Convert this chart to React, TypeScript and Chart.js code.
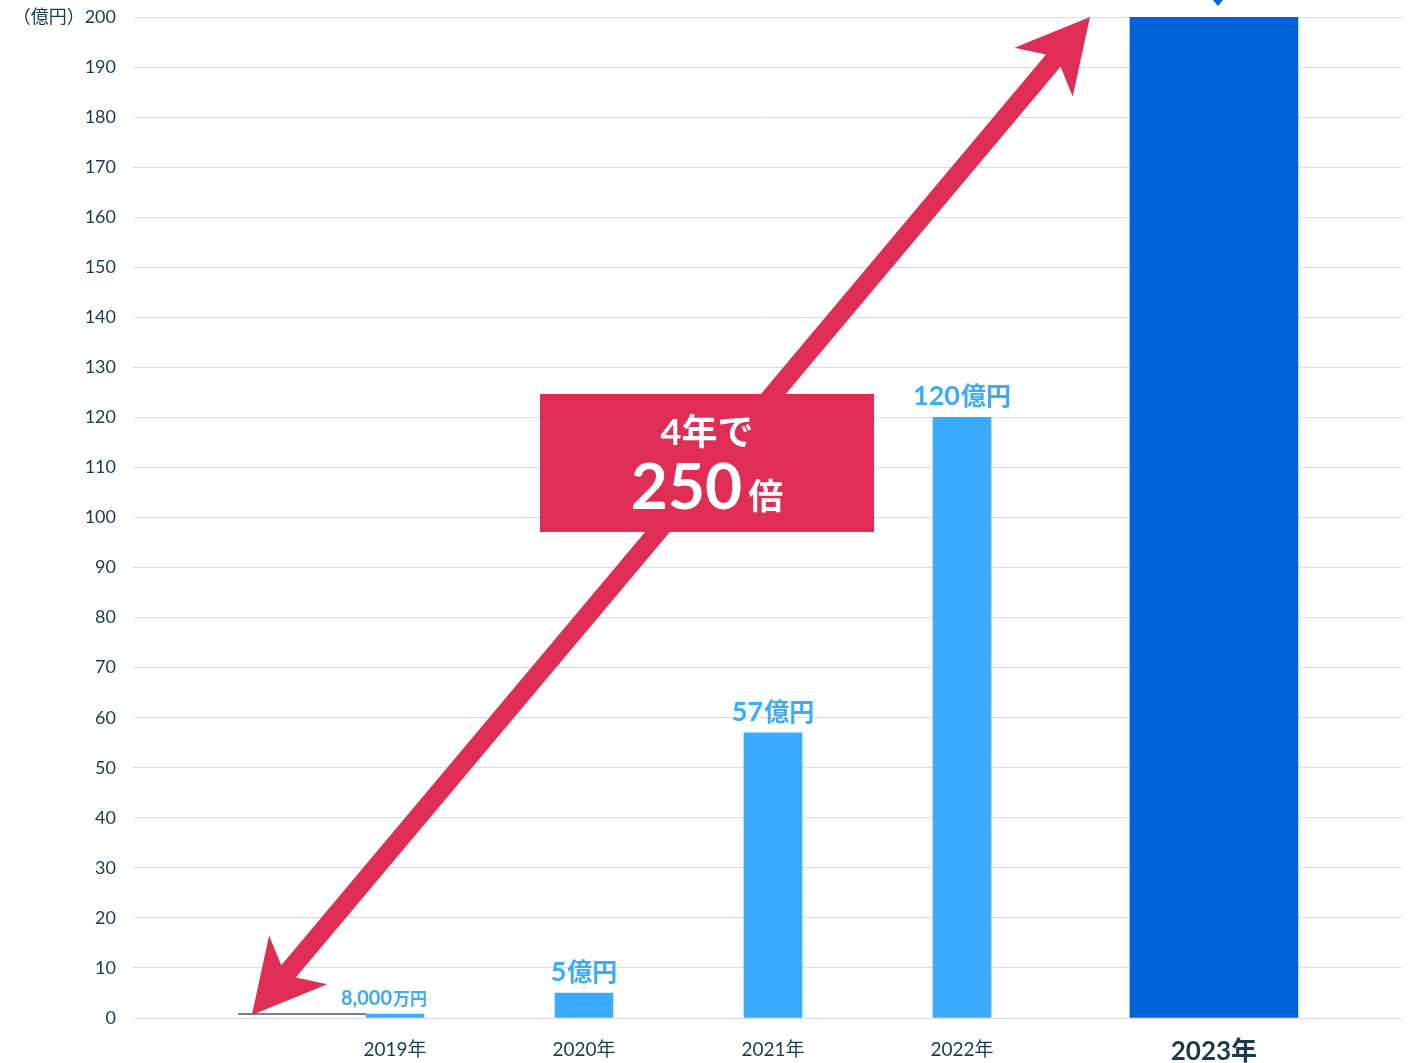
import React, { useEffect, useRef } from "react";
import { Chart, registerables } from "chart.js";

Chart.register(...registerables);

const categories = ["2019年", "2020年", "2021年", "2022年", "2023年"];
const positions = [0, 1, 2, 3, 4.333];
const values = [0.8, 5, 57, 120, 200];
const valueNumbers = ["8,000", "5", "57", "120", "200"];
const valueUnits = ["万円", "億円", "億円", "億円", "億円"];
const yMax = 200;
const yStep = 10;
const calloutLine1 = "4年で";
const calloutNumber = "250";
const calloutUnit = "倍";

const FONT = "Lato, 'Noto Sans CJK JP', sans-serif";
const LIGHT = "#3aabff";
const DARK = "#0064d8";
const RED = "#e02d55";
const TEXT = "#1a3a52";

const overlay = {
  id: "overlay",
  afterDatasetsDraw(chart: any) {
    const ctx = chart.ctx;
    const xs = chart.scales.x;
    const ys = chart.scales.y;
    ctx.save();

    // base leader line at 2019
    const bar0 = chart.getDatasetMeta(0).data[0];
    ctx.strokeStyle = "#555";
    ctx.lineWidth = 1.5;
    ctx.beginPath();
    ctx.moveTo(xs.getPixelForValue(-0.83), bar0.y);
    ctx.lineTo(bar0.x - bar0.width / 2, bar0.y);
    ctx.stroke();

    // double arrow
    const tx = xs.getPixelForValue(-0.757);
    const ty = ys.getPixelForValue(0.6);
    const hx = xs.getPixelForValue(3.677);
    const hy = ys.getPixelForValue(200);
    const dx = hx - tx;
    const dy = hy - ty;
    const len = Math.sqrt(dx * dx + dy * dy);
    const ux = dx / len;
    const uy = dy / len;
    const px = -uy;
    const py = ux;
    const headLen = 72;
    const headHalf = 38;
    ctx.strokeStyle = RED;
    ctx.fillStyle = RED;
    ctx.lineWidth = 19;
    ctx.beginPath();
    ctx.moveTo(tx + ux * (headLen - 30), ty + uy * (headLen - 30));
    ctx.lineTo(hx - ux * (headLen - 30), hy - uy * (headLen - 30));
    ctx.stroke();
    const head = (x: number, y: number, dirx: number, diry: number) => {
      const bx = x - dirx * headLen;
      const by = y - diry * headLen;
      const nx = x - dirx * (headLen - 20);
      const ny = y - diry * (headLen - 20);
      ctx.beginPath();
      ctx.moveTo(x, y);
      ctx.lineTo(bx + px * headHalf, by + py * headHalf);
      ctx.lineTo(nx, ny);
      ctx.lineTo(bx - px * headHalf, by - py * headHalf);
      ctx.closePath();
      ctx.fill();
    };
    head(hx, hy, ux, uy);
    head(tx, ty, -ux, -uy);

    // callout box
    const cx = xs.getPixelForValue(1.651);
    const cy = ys.getPixelForValue(110.9);
    const bw = 334;
    const bh = 138;
    ctx.fillStyle = RED;
    ctx.fillRect(cx - bw / 2, cy - bh / 2, bw, bh);
    ctx.fillStyle = "#fff";
    ctx.textAlign = "center";
    ctx.textBaseline = "alphabetic";
    ctx.font = `bold 36px ${FONT}`;
    ctx.fillText(calloutLine1, cx, cy - 18);
    ctx.font = `bold 64px ${FONT}`;
    const nW = ctx.measureText(calloutNumber).width;
    ctx.font = `bold 35px ${FONT}`;
    const uW = ctx.measureText(calloutUnit).width;
    const gap = 6;
    const start = cx - (nW + gap + uW) / 2;
    ctx.textAlign = "left";
    ctx.font = `bold 64px ${FONT}`;
    ctx.fillText(calloutNumber, start, cy + 46);
    ctx.font = `bold 35px ${FONT}`;
    ctx.fillText(calloutUnit, start + nW + gap, cy + 46);

    // value labels
    const metas = [chart.getDatasetMeta(0), chart.getDatasetMeta(1)];
    for (let i = 0; i < categories.length; i++) {
      const el = i < 4 ? metas[0].data[i] : metas[1].data[0];
      if (!el) continue;
      if (i === 4) {
        // label sits above the visible area; only its pointer shows
        const mx = el.x + 4;
        ctx.fillStyle = DARK;
        ctx.beginPath();
        ctx.moveTo(mx - 5, 0);
        ctx.lineTo(mx + 5, 0);
        ctx.lineTo(mx, 6);
        ctx.closePath();
        ctx.fill();
        continue;
      }
      const small = i === 0;
      const numFont = small ? `bold 20px ${FONT}` : `bold 27px ${FONT}`;
      const unitFont = small ? `bold 17px ${FONT}` : `bold 25px ${FONT}`;
      ctx.font = numFont;
      const w1 = ctx.measureText(valueNumbers[i]).width;
      ctx.font = unitFont;
      const w2 = ctx.measureText(valueUnits[i]).width;
      const lx = el.x - (small ? 11 : 0) - (w1 + w2 + 1) / 2;
      const ly = el.y - (small ? 9 : 12);
      ctx.fillStyle = LIGHT;
      ctx.textAlign = "left";
      ctx.font = numFont;
      ctx.fillText(valueNumbers[i], lx, ly);
      ctx.font = unitFont;
      ctx.fillText(valueUnits[i], lx + w1 + 1, ly);
    }
    ctx.restore();
  },
};

export default function App() {
  const ref = useRef<HTMLCanvasElement | null>(null);
  useEffect(() => {
    document.body.style.margin = "0";
    if (!ref.current) return;
    const chart = new Chart(ref.current, {
      type: "bar",
      data: {
        datasets: [
          {
            data: positions.slice(0, 4).map((p, i) => ({ x: p, y: values[i] })),
            backgroundColor: LIGHT,
            barThickness: 58,
            grouped: false,
          } as any,
          {
            data: [{ x: positions[4], y: values[4] }],
            backgroundColor: DARK,
            barThickness: 168,
            grouped: false,
          } as any,
        ],
      },
      options: {
        animation: false,
        responsive: true,
        maintainAspectRatio: false,
        layout: { padding: { top: 17, right: 8, left: 0, bottom: 0 } },
        plugins: {
          legend: { display: false },
          tooltip: { enabled: false },
        },
        scales: {
          x: {
            type: "linear",
            min: -1.386,
            max: 5.328,
            offset: false,
            grid: { display: false, drawTicks: false },
            border: { display: false },
            afterBuildTicks: (s: any) => {
              s.ticks = positions.map((v) => ({ value: v }));
            },
            afterFit: (s: any) => {
              s.height = 45;
              s.paddingLeft = 0;
              s.paddingRight = 0;
            },
            ticks: {
              padding: 20,
              color: TEXT,
              autoSkip: false,
              maxRotation: 0,
              callback: (_v: any, i: number) => categories[i],
              font: (c: any) =>
                c.index === 4
                  ? { family: FONT, size: 26, weight: "bold", lineHeight: 1.05 }
                  : { family: FONT, size: 19 },
            },
          } as any,
          y: {
            min: 0,
            max: yMax,
            grid: { color: "#dddddd", drawTicks: false, lineWidth: 1 },
            border: { display: false },
            afterFit: (s: any) => {
              s.width = 133;
              s.paddingTop = 0;
              s.paddingBottom = 0;
            },
            ticks: {
              stepSize: yStep,
              padding: 17,
              color: TEXT,
              font: { family: FONT, size: 18 },
              callback: (v: any) => (v === yMax ? `（億円）${v}` : `${v}`),
            },
          },
        },
      },
      plugins: [overlay],
    });
    return () => chart.destroy();
  }, []);
  return (
    <div style={{ width: 1410, height: 1063, position: "relative" }}>
      <canvas ref={ref} />
    </div>
  );
}
